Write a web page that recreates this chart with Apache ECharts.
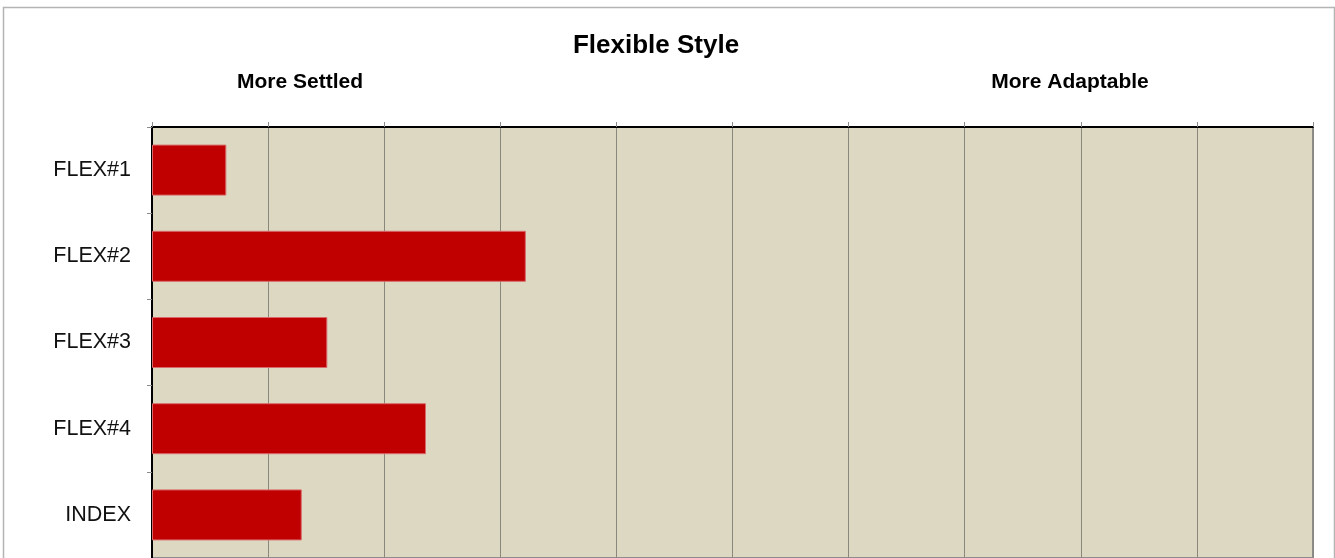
<!DOCTYPE html>
<html>
<head>
<meta charset="utf-8">
<script src="https://cdn.jsdelivr.net/npm/echarts@6/dist/echarts.min.js"></script>
<style>
  html, body { margin: 0; padding: 0; background: #fff; }
  #main { width: 1335px; height: 558px; }
</style>
</head>
<body>
<div id="main"></div>
<script>
// categories top to bottom
var categories = ['FLEX#1', 'FLEX#2', 'FLEX#3', 'FLEX#4', 'INDEX'];
// bar lengths (0..100, 10 per gridline)
var scores = [6.4, 32.2, 15.1, 23.6, 12.9];
var chartTitle = 'Flexible Style';
var leftEnd = 'More Settled';
var rightEnd = 'More Adaptable';

var font = 'Liberation Sans, Arial, sans-serif';
var myChart = echarts.init(document.getElementById('main'));

var option = {
    backgroundColor: '#fff',
    animation: false,
    graphic: [
        {
            type: 'rect',
            shape: { x: 3.5, y: 7.5, width: 1331, height: 600 },
            style: { fill: null, stroke: '#b4b4b4', lineWidth: 1.5 },
            silent: true
        },
        {
            type: 'text', x: 656, y: 46,
            style: { text: chartTitle, font: 'bold 26px ' + font, fill: '#000', textAlign: 'center', textVerticalAlign: 'middle' }
        },
        {
            type: 'text', x: 300, y: 82,
            style: { text: leftEnd, font: 'bold 21px ' + font, fill: '#000', textAlign: 'center', textVerticalAlign: 'middle' }
        },
        {
            type: 'text', x: 1070, y: 82,
            style: { text: rightEnd, font: 'bold 21px ' + font, fill: '#000', textAlign: 'center', textVerticalAlign: 'middle' }
        }
    ],
    grid: {
        left: 152,
        right: 22,
        top: 127,
        bottom: -6,
        show: true,
        backgroundColor: '#ddd8c2',
        borderColor: '#8c8c8c',
        borderWidth: 2
    },
    xAxis: {
        type: 'value',
        position: 'top',
        min: 0,
        max: 100,
        interval: 10,
        axisLine: { show: true, lineStyle: { color: '#000', width: 2 } },
        axisTick: { show: true, length: 5, lineStyle: { color: '#8a8a8a' } },
        axisLabel: { show: false },
        splitLine: { show: true, lineStyle: { color: '#8a887c', width: 1 } }
    },
    yAxis: {
        type: 'category',
        inverse: true,
        data: categories,
        axisLine: { show: true, lineStyle: { color: '#000', width: 2 } },
        axisTick: { show: true, length: 5, lineStyle: { color: '#8a8a8a' } },
        axisLabel: { margin: 21, fontSize: 21.5, fontFamily: font, color: '#111' }
    },
    series: [{
        type: 'bar',
        data: scores,
        barWidth: 51,
        itemStyle: {
            color: '#c00000',
            borderColor: '#d86a6a',
            borderWidth: 1
        }
    }]
};

myChart.setOption(option);
</script>
</body>
</html>
